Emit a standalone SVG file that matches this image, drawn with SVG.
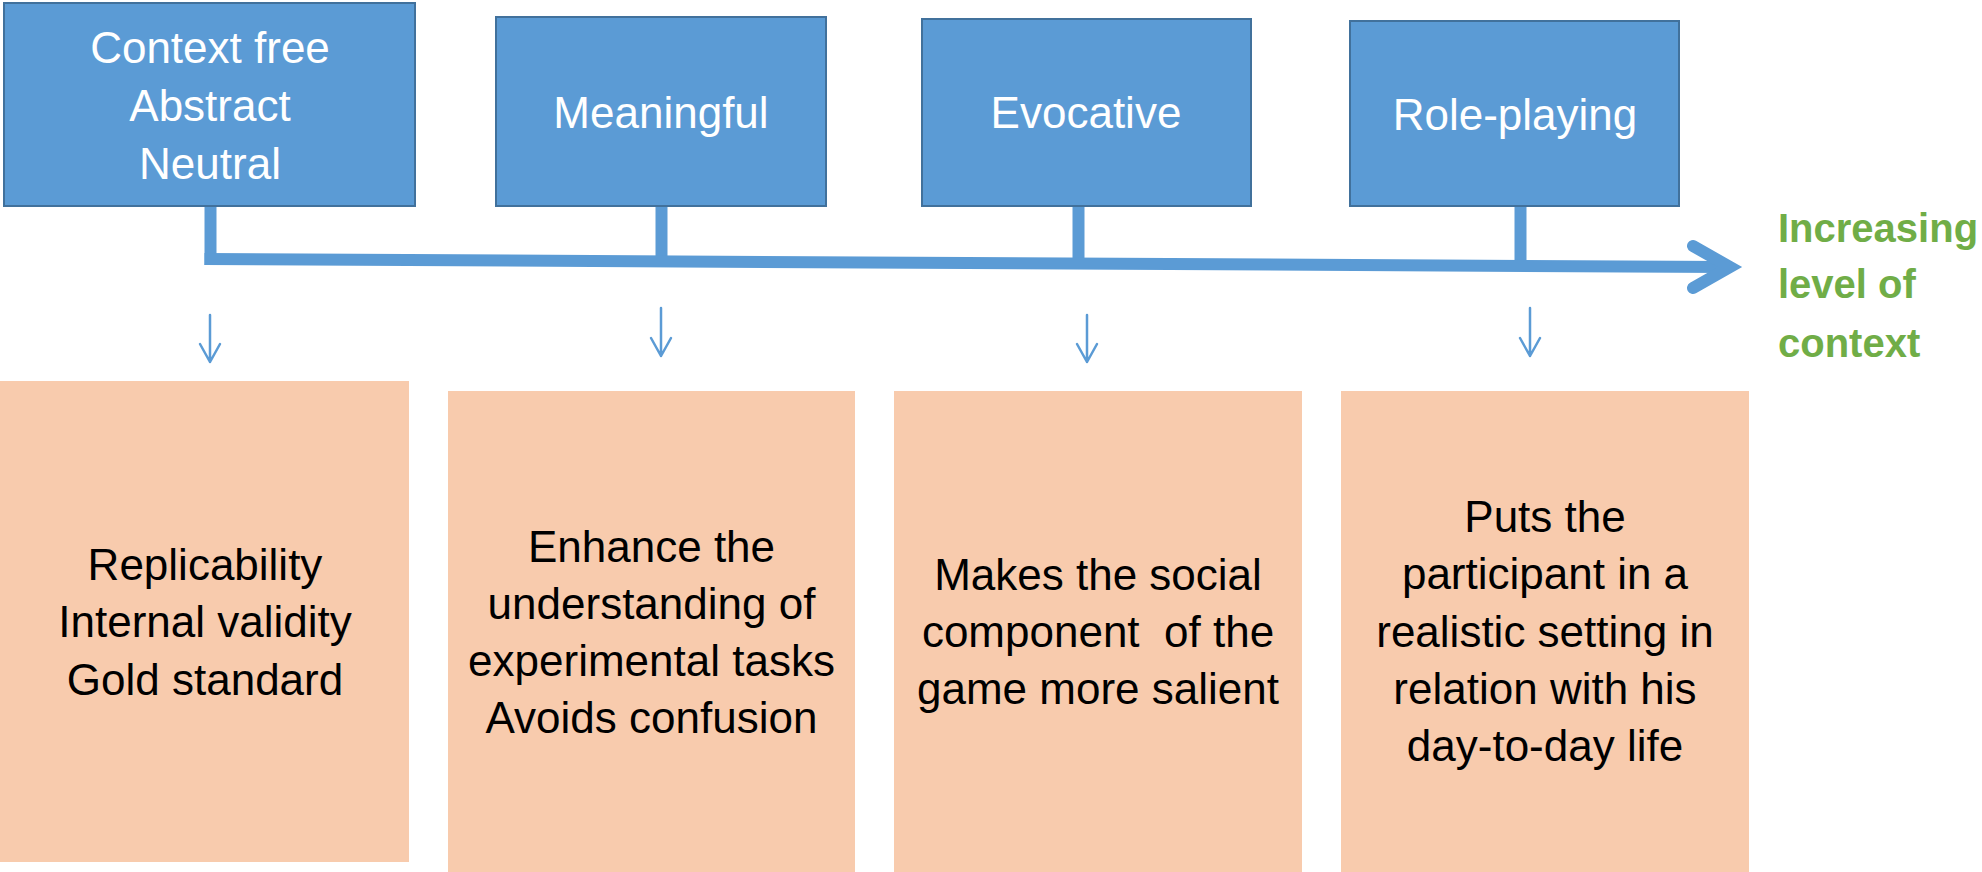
<svg xmlns="http://www.w3.org/2000/svg" width="1982" height="872" viewBox="0 0 1982 872">
<style>
.top{fill:#5B9BD5;stroke:#41719C;stroke-width:2}
.bot{fill:#F8CBAD}
.tw{font-family:"Liberation Sans",Arial,sans-serif;font-size:44px;fill:#FFFFFF;text-anchor:middle}
.tb{font-family:"Liberation Sans",Arial,sans-serif;font-size:44px;fill:#000000;text-anchor:middle;white-space:pre}
.tg{font-family:"Liberation Sans",Arial,sans-serif;font-size:40px;font-weight:bold;fill:#70AD47}
.thick{stroke:#5B9BD5;stroke-width:12;fill:none}
.thin{stroke:#5B9BD5;stroke-width:2.5;fill:none;stroke-linecap:round;stroke-linejoin:round}
</style>
<rect width="1982" height="872" fill="#FFFFFF"/>
<g id="connectors">
<line class="thick" x1="210.5" y1="206" x2="210.5" y2="265"/>
<line class="thick" x1="661.5" y1="206" x2="661.5" y2="257"/>
<line class="thick" x1="1078.5" y1="206" x2="1078.5" y2="259"/>
<line class="thick" x1="1520.5" y1="206" x2="1520.5" y2="260"/>
<line class="thick" x1="204.5" y1="259" x2="1726" y2="267"/>
<polyline class="thick" points="1693,246 1730,267 1693,288" stroke-linecap="round" stroke-linejoin="miter"/>
<path class="thin" d="M210,315 V362 M200,344 L210,362 L220,344"/>
<path class="thin" d="M661,308 V356 M651,338 L661,356 L671,338"/>
<path class="thin" d="M1087,315 V362 M1077,344 L1087,362 L1097,344"/>
<path class="thin" d="M1530,308 V356 M1520,338 L1530,356 L1540,338"/>
</g>
<g id="n1">
<rect class="top" x="4" y="3" width="411" height="203"/>
<text class="tw" x="210" y="63">Context free</text>
<text class="tw" x="210" y="121">Abstract</text>
<text class="tw" x="210" y="179">Neutral</text>
</g>
<g id="n2">
<rect class="top" x="496" y="17" width="330" height="189"/>
<text class="tw" x="661" y="128">Meaningful</text>
</g>
<g id="n3">
<rect class="top" x="922" y="19" width="329" height="187"/>
<text class="tw" x="1086" y="128">Evocative</text>
</g>
<g id="n4">
<rect class="top" x="1350" y="21" width="329" height="185"/>
<text class="tw" x="1515" y="130">Role-playing</text>
</g>
<g id="label">
<text class="tg" x="1778" y="242">Increasing</text>
<text class="tg" x="1778" y="298">level of</text>
<text class="tg" x="1778" y="357">context</text>
</g>
<g id="b1">
<rect class="bot" x="0" y="381" width="409" height="481"/>
<text class="tb" x="205" y="580">Replicability</text>
<text class="tb" x="205" y="637">Internal validity</text>
<text class="tb" x="205" y="695">Gold standard</text>
</g>
<g id="b2">
<rect class="bot" x="448" y="391" width="407" height="481"/>
<text class="tb" x="651.5" y="562">Enhance the</text>
<text class="tb" x="651.5" y="619">understanding of</text>
<text class="tb" x="651.5" y="676">experimental tasks</text>
<text class="tb" x="651.5" y="733">Avoids confusion</text>
</g>
<g id="b3">
<rect class="bot" x="894" y="391" width="408" height="481"/>
<text class="tb" x="1098" y="590">Makes the social</text>
<text class="tb" x="1098" y="647">component  of the</text>
<text class="tb" x="1098" y="704">game more salient</text>
</g>
<g id="b4">
<rect class="bot" x="1341" y="391" width="408" height="481"/>
<text class="tb" x="1545" y="532">Puts the</text>
<text class="tb" x="1545" y="589">participant in a</text>
<text class="tb" x="1545" y="647">realistic setting in</text>
<text class="tb" x="1545" y="704">relation with his</text>
<text class="tb" x="1545" y="761">day-to-day life</text>
</g>
</svg>
